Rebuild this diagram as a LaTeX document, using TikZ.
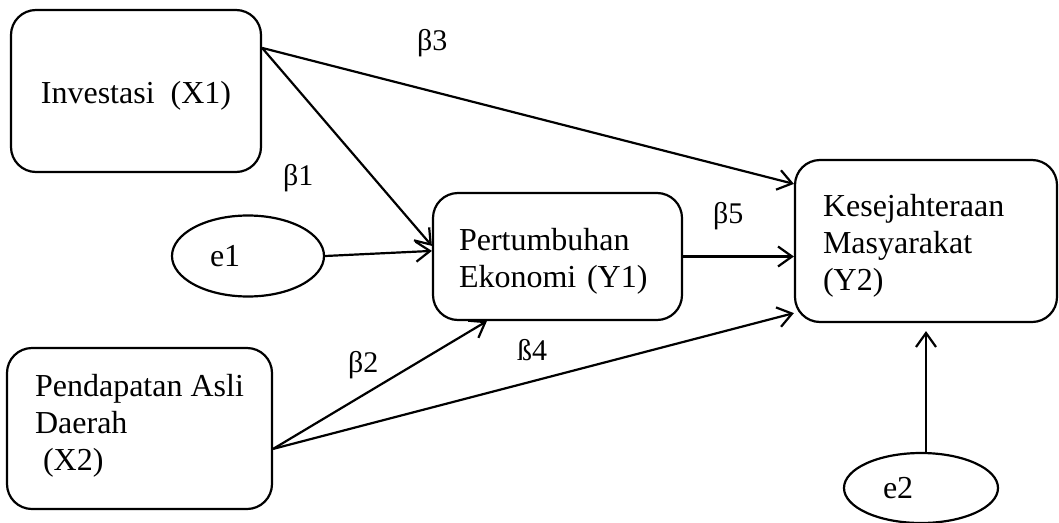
\documentclass[tikz,border=0pt]{standalone}
\usepackage{fontspec}
\setmainfont{Liberation Serif}
\usetikzlibrary{arrows.meta,shapes.geometric}
\begin{document}
\begin{tikzpicture}[x=1pt,y=-1pt,
  box/.style={draw, line width=2.2pt, rounded corners=25pt, inner sep=0pt, font=\fontsize{32}{37}\selectfont},
  err/.style={draw, ellipse, line width=2.2pt, inner sep=0pt, font=\fontsize{32}{37}\selectfont},
  coef/.style={anchor=base west, inner sep=0pt, font=\fontsize{30}{36}\selectfont},
  link/.style={line width=2.2pt, -{Straight Barb[length=14pt,width=20pt]}}
]
\useasboundingbox (0,0) rectangle (1059,522);

% boxes
\node[box, minimum width=250pt, minimum height=162pt] (x1) at (136,91) {\rule{0pt}{31pt}Investasi\ \ (X1)};
\node[box, minimum width=249pt, minimum height=127pt, text width=197pt, inner xsep=26pt, align=left] (y1) at (557.5,256.5) {\rule{0pt}{31pt}Pertumbuhan\\Ekonomi (Y1)};
\node[box, minimum width=262pt, minimum height=162pt, text width=206pt, inner xsep=28pt, align=left] (y2) at (926,241) {\rule{0pt}{31pt}Kesejahteraan\\Masyarakat\\(Y2)};
\node[box, minimum width=265pt, minimum height=161pt, align=left] (x2) at (139.5,428.5) {Pendapatan Asli\\Daerah\\\hspace*{8pt}(X2)\rule[-13pt]{0pt}{0pt}};

% error terms
\node[err, minimum width=152pt, minimum height=81pt] (e1) at (248,256) {\makebox[76pt][l]{e1}};
\node[err, minimum width=154pt, minimum height=70pt] (e2) at (921,488) {\makebox[76pt][l]{e2}};

% coefficient labels
\node[coef] (b1) at (283,185) {β1};
\node[coef] (b2) at (348,372) {β2};
\node[coef] (b3) at (417,50) {β3};
\node[coef] (b4) at (517,360) {ß4};
\node[coef] (b5) at (713,223) {β5};

% connectors
\coordinate (x1o) at ([yshift=-39pt]x1.north east);
\coordinate (x2o) at ([yshift=-102pt]x2.north east);
\coordinate (e2o) at ([xshift=5pt]e2.north);
\draw[link] (x1o) -- ([yshift=-54pt]y1.north west);
\draw[link] (x1o) -- ([yshift=-25pt]y2.north west);
\draw[link] (e1.east) -- ([yshift=-59pt]y1.north west);
\draw[link] (x2o) -- ([xshift=55pt]y1.south west);
\draw[link] (x2o) -- ([yshift=10pt]y2.south west);
\draw[link] (y1.east) -- (y1.east -| y2.west);
\draw[link, shorten >=8pt] (e2o) -- (e2o |- y2.south);
\end{tikzpicture}
\end{document}
